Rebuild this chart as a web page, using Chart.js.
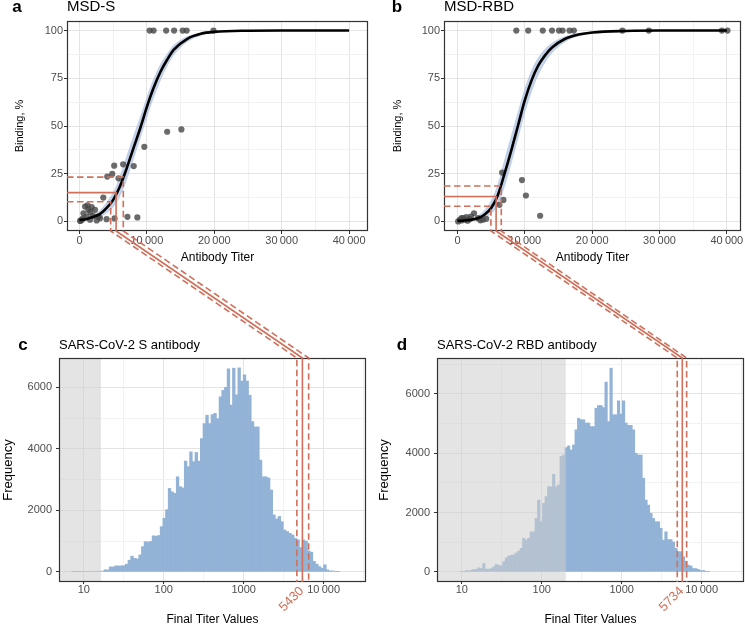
<!DOCTYPE html>
<html>
<head>
<meta charset="utf-8">
<script src="https://cdn.jsdelivr.net/npm/chart.js@4.4.0/dist/chart.umd.min.js"></script>
<style>
  body { margin: 0; background: #fff; }
  #wrap { position: relative; width: 745px; height: 628px; overflow: hidden; }
  #wrap canvas { position: absolute; }
</style>
</head>
<body>
<div id="wrap">
  <canvas id="chartA" width="372" height="270" style="left:0px;top:0px"></canvas>
  <canvas id="chartB" width="373" height="270" style="left:372px;top:0px"></canvas>
  <canvas id="chartC" width="372" height="300" style="left:0px;top:328px"></canvas>
  <canvas id="chartD" width="373" height="300" style="left:372px;top:328px"></canvas>
  <canvas id="overlay" width="745" height="628" style="left:0px;top:0px;pointer-events:none"></canvas>
</div>
<script>
Chart.defaults.font.family = '"Liberation Sans", Arial, Helvetica, sans-serif';

var RED = '#d0705a';
var FONT = '"Liberation Sans", Arial, Helvetica, sans-serif';

// ---- panel a: MSD-S binding vs antibody titer
var sPtsX = [10405, 10994, 12859, 14037, 15313, 15902, 19877,
             13006, 15117, 9620, 5153, 6479, 8049, 4859, 4123, 5791, 3534, 7117, 8589, 5202,
             834, 1325, 1816, 2307, 589, 1080, 343, 98, 1570, 2552, 3043, 4025, 1200, 1600, 2000, 200, 500, 2800];
var sPtsY = [100, 100, 100, 100, 100, 100, 100,
             47, 48.2, 39.1, 29.2, 29.9, 29, 24.9, 23.5, 22.6, 12.5, 2.4, 2.1, 1.6,
             7.8, 6.1, 7.5, 6.1, 4.3, 2.6, 0.9, 0.3, 0.9, 0.5, 1.7, 1.2, 8.5, 5, 3, 0.5, 1.5, 2.5];
var sFitX = [0, 1000, 2000, 3000, 4000, 5000, 6000, 7000, 8000, 9000, 10000, 11000, 12000, 13000, 14000, 16000, 18000, 20000, 25000, 30000, 40000];
var sFitMid = [0.8, 1.2, 2.3, 3.8, 7, 11.3, 18.3, 27.8, 38.3, 48.7, 60, 70, 78.3, 84.7, 90, 95.7, 98.3, 99.3, 99.9, 100, 100];
var sFitLow = [0.3, 0.6, 1.2, 2.2, 4.3, 7.5, 13, 21.5, 32, 43, 54, 64.5, 73.5, 81, 87, 94, 97.3, 98.8, 99.8, 100, 100];
var sFitHigh = [1.5, 2, 3.6, 5.8, 10, 15.5, 24, 34.5, 45, 55, 65.5, 75, 82.5, 88, 92.5, 97, 99, 99.6, 100, 100, 100];
var sCut = [4630, 5430, 6500];          // lower CI, estimate, upper CI
var sCutBinding = [10.3, 15.1, 23.2];

// ---- panel b: MSD-RBD binding vs antibody titer
var rbdPtsX = [8736, 10503, 12663, 14037, 15067, 15607, 16638, 17276, 24491, 28417, 39264, 40098,
               6626, 9571, 10160, 6822, 6233, 12270, 2454,
               344, 834, 1325, 1816, 3043, 3779, 98, 589, 4270, 1080, 2000, 1500, 3400, 600];
var rbdPtsY = [100, 100, 100, 100, 100, 100, 100, 100, 100, 100, 100, 100,
               25.6, 21.7, 13.6, 11.3, 8.7, 3.0, 4.3,
               0.9, 1.7, 2.3, 1.2, 1.7, 0.9, 0, 0.5, 1.4, 0.9, 2.5, 0.4, 0.6, 1.8];
var rbdFitX = sFitX;
var rbdFitMid = [0.3, 0.5, 0.9, 1.7, 3.5, 7, 13.9, 25.2, 37.4, 50.4, 63.5, 73.9, 81.7, 87, 91, 95.7, 97.9, 99, 99.8, 100, 100];
var rbdFitLow = [0.1, 0.2, 0.4, 0.8, 1.8, 4, 8.5, 18, 30, 43, 56.5, 67.5, 76.5, 83, 88, 94, 97, 98.5, 99.7, 100, 100];
var rbdFitHigh = [0.6, 0.9, 1.6, 3, 6, 11, 20, 33, 45.5, 58, 70, 79.5, 86, 90.5, 93.5, 97, 98.7, 99.4, 99.9, 100, 100];
var rbdCut = [4960, 5734, 6500];
var rbdCutBinding = [8.0, 13.1, 18.6];

// ---- panels c/d: histograms of final titer values (log10 bins)
var sBinStart = 0.85, sBinWidth = 0.0335;
var sCounts = [5, 5, 10, 10, 15, 10, 15, 20, 15, 20,
  25, 20, 65, 65, 160, 160, 195, 190, 195, 200,
  250, 380, 510, 440, 420, 550, 820, 980, 970, 990,
  1170, 1160, 1180, 1470, 1740, 2020, 2710, 2600, 2550, 3090,
  2770, 2730, 3600, 3420, 3900, 3580, 3880, 3600, 4330, 4820,
  5090, 4820, 5110, 5150, 4980, 5690, 5900, 6000, 6600, 5420,
  6620, 5750, 6630, 6200, 6400, 6200, 5740, 4880, 4710, 4710,
  3630, 3090, 3090, 3050, 2660, 1850, 1720, 1800, 1630, 1360,
  1310, 1250, 1200, 1090, 1040, 790, 1040, 1000, 680, 640,
  340, 250, 170, 120, 230, 65, 30, 30, 15, 10];
var sShadeTo = 16.4;

var rbdBinStart = 0.98, rbdBinWidth = 0.0312;
var rbdCounts = [0, 20, 40, 30, 55, 80, 80, 135, 110, 280,
  90, 90, 110, 170, 250, 220, 200, 340, 470, 530,
  560, 570, 640, 700, 790, 1130, 1070, 1130, 1350, 1350,
  1800, 2420, 1690, 2310, 2540, 2870, 2870, 3290, 2870, 2930,
  3890, 3940, 4190, 4250, 4110, 4280, 4790, 5180, 5130, 5130,
  5020, 5020, 4900, 4900, 5520, 5610, 5610, 5540, 6400, 5070,
  6870, 5300, 5300, 5770, 5320, 5770, 5020, 4940, 4940, 4790,
  4000, 3940, 3940, 3160, 2420, 2250, 1970, 1800, 1690, 1690,
  1470, 1070, 1350, 1090, 1090, 1010, 790, 680, 680, 510,
  360, 225, 200, 110, 110, 80, 45, 45, 20, 15];
var rbdShadeTo = 200;

// ---- ticks
var titerTicks = [0, 10000, 20000, 30000, 40000];
var titerTickLabels = ['0', '10\u2009000', '20\u2009000', '30\u2009000', '40\u2009000'];
var titerMinor = [5000, 15000, 25000, 35000];
var bindingTicks = [0, 25, 50, 75, 100];
var bindingTickLabels = ['0', '25', '50', '75', '100'];
var bindingMinor = [12.5, 37.5, 62.5, 87.5];
var finalTicks = [10, 100, 1000, 10000];
var finalTickLabels = ['10', '100', '1000', '10\u2009000'];
var finalMinor = [31.62, 316.2, 3162, 31623];
var freqTicks = [0, 2000, 4000, 6000];
var freqTickLabels = ['0', '2000', '4000', '6000'];
var freqMinor = [1000, 3000, 5000, 7000];

function toXY(xs, ys) {
    var out = [];
    for (var i = 0; i < xs.length; i++) out.push({ x: xs[i], y: ys[i] });
    return out;
}

function binCenters(start, width, n) {
    var out = [];
    for (var i = 0; i < n; i++) out.push(Math.pow(10, start + (i + 0.5) * width));
    return out;
}

function fixedTicks(majors, minors) {
    return function (scale) {
        var all = majors.concat(minors).filter(function (v) { return v >= scale.min && v <= scale.max; });
        all.sort(function (a, b) { return a - b; });
        scale.ticks = all.map(function (v) { return { value: v }; });
    };
}

function isMajor(majors, v) {
    for (var i = 0; i < majors.length; i++) {
        if (Math.abs(majors[i] - v) < 1e-6) return i;
    }
    return -1;
}

// ggplot-like axis: light major/minor grid, short dark ticks on majors only
function axis(majors, labels, minors, tickLen, pad, extra) {
    var a = {
        afterBuildTicks: fixedTicks(majors, minors),
        border: { display: false },
        grid: {
            offset: false,
            tickLength: tickLen,
            color: function (ctx) {
                if (!ctx.tick) return 'rgba(0,0,0,0)';
                return isMajor(majors, ctx.tick.value) >= 0 ? '#e4e4e4' : '#f2f2f2';
            },
            tickColor: function (ctx) {
                if (!ctx.tick) return 'rgba(0,0,0,0)';
                return isMajor(majors, ctx.tick.value) >= 0 ? '#333' : 'rgba(0,0,0,0)';
            },
            lineWidth: 1
        },
        ticks: {
            autoSkip: false,
            maxRotation: 0,
            padding: pad,
            color: '#4d4d4d',
            font: { size: 11 },
            callback: function (v) {
                var k = isMajor(majors, v);
                return k >= 0 ? labels[k] : '';
            }
        }
    };
    for (var key in extra) a[key] = extra[key];
    return a;
}

var panelDeco = {
    id: 'panelDeco',
    afterDatasetsDraw: function (chart, args, o) {
        if (o.shadeTo) {
            var a = chart.chartArea, ctx = chart.ctx;
            var x1 = chart.scales.x.getPixelForValue(o.shadeTo);
            ctx.save();
            ctx.fillStyle = 'rgba(205,205,205,0.55)';
            ctx.fillRect(a.left, a.top, x1 - a.left, a.bottom - a.top);
            ctx.restore();
        }
    },
    afterDraw: function (chart, args, o) {
        var a = chart.chartArea, ctx = chart.ctx;
        ctx.save();
        ctx.strokeStyle = '#333';
        ctx.lineWidth = 1.2;
        ctx.strokeRect(a.left + 0.5, a.top + 0.5, a.right - a.left - 1, a.bottom - a.top - 1);
        ctx.fillStyle = '#000';
        ctx.textBaseline = 'middle';
        ctx.textAlign = 'center';
        ctx.font = 'bold 17px ' + FONT;
        ctx.fillText(o.letter, o.letterX, o.textY);
        ctx.textAlign = 'left';
        ctx.font = o.titleSize + 'px ' + FONT;
        ctx.fillText(o.title, a.left, o.textY);
        ctx.restore();
    }
};

function drawBindingPanel(id, letter, title, ptsX, ptsY, fitX, fitMid, fitLow, fitHigh, xMin, xMax, o) {
    var c = document.getElementById(id);
    return new Chart(c.getContext('2d'), {
        type: 'scatter',
        data: {
            datasets: [
                {
                    type: 'line',
                    data: toXY(fitX, fitMid),
                    borderColor: '#000',
                    borderWidth: 2.6,
                    pointRadius: 0,
                    cubicInterpolationMode: 'monotone',
                    order: 0
                },
                {
                    data: toXY(ptsX, ptsY),
                    backgroundColor: 'rgba(70,70,70,0.8)',
                    borderWidth: 0,
                    pointRadius: 3.1,
                    order: 1
                },
                {
                    type: 'line',
                    data: toXY(fitX, fitLow),
                    borderWidth: 0,
                    pointRadius: 0,
                    fill: false,
                    cubicInterpolationMode: 'monotone',
                    order: 3
                },
                {
                    type: 'line',
                    data: toXY(fitX, fitHigh),
                    borderWidth: 0,
                    pointRadius: 0,
                    fill: 2,
                    backgroundColor: 'rgba(168,189,222,0.7)',
                    cubicInterpolationMode: 'monotone',
                    order: 2
                }
            ]
        },
        plugins: [panelDeco],
        options: {
            responsive: false,
            animation: false,
            events: [],
            layout: { padding: { top: 21, right: o.padRight, left: 0, bottom: 0 } },
            plugins: {
                legend: { display: false },
                tooltip: { enabled: false },
                panelDeco: { letter: letter, letterX: o.letterX, textY: 7, title: title, titleSize: 15 }
            },
            scales: {
                x: axis(titerTicks, titerTickLabels, titerMinor, 3, 0, {
                    type: 'linear', min: xMin, max: xMax,
                    afterFit: function (s) { s.height = 39; },
                    title: { display: true, text: 'Antibody Titer', color: '#000', font: { size: 12 }, padding: { top: 0, bottom: 5.3 } }
                }),
                y: axis(bindingTicks, bindingTickLabels, bindingMinor, 3, 1, {
                    type: 'linear', min: -5, max: 105,
                    afterFit: function (s) { s.width = o.yWidth; },
                    title: { display: true, text: 'Binding, %', color: '#000', font: { size: 11 }, padding: { top: o.yTitlePad, bottom: 0 } }
                })
            }
        }
    });
}

function drawHistPanel(id, letter, title, counts, binStart, binWidth, shadeTo, yMin, yMax, o) {
    var c = document.getElementById(id);
    var centers = binCenters(binStart, binWidth, counts.length);
    return new Chart(c.getContext('2d'), {
        type: 'bar',
        data: {
            datasets: [{
                data: toXY(centers, counts),
                backgroundColor: '#92b2d6',
                borderWidth: 0,
                barPercentage: 1,
                categoryPercentage: 1
            }]
        },
        plugins: [panelDeco],
        options: {
            responsive: false,
            animation: false,
            events: [],
            layout: { padding: { top: 30, right: o.padRight, left: 0, bottom: 0 } },
            plugins: {
                legend: { display: false },
                tooltip: { enabled: false },
                panelDeco: { letter: letter, letterX: o.letterX, textY: 17, title: title, titleSize: 13, shadeTo: shadeTo }
            },
            scales: {
                x: axis(finalTicks, finalTickLabels, finalMinor, 2, -1, {
                    type: 'logarithmic', min: 4.9, max: 33900, offset: false,
                    afterFit: function (s) { s.height = 46; },
                    title: { display: true, text: 'Final Titer Values', color: '#000', font: { size: 12 }, padding: { top: 0, bottom: 0.8 } }
                }),
                y: axis(freqTicks, freqTickLabels, freqMinor, 3, 4, {
                    type: 'linear', min: yMin, max: yMax,
                    afterFit: function (s) { s.width = o.yWidth; },
                    title: { display: true, text: 'Frequency', color: '#000', font: { size: 13 }, padding: { top: o.yTitlePad, bottom: 0 } }
                })
            }
        }
    });
}

var chartA = drawBindingPanel('chartA', 'a', 'MSD-S', sPtsX, sPtsY, sFitX, sFitMid, sFitLow, sFitHigh, -1850, 42800,
    { padRight: 2, yWidth: 67, yTitlePad: 12.9, letterX: 17 });
var chartB = drawBindingPanel('chartB', 'b', 'MSD-RBD', rbdPtsX, rbdPtsY, rbdFitX, rbdFitMid, rbdFitLow, rbdFitHigh, -2005, 42103,
    { padRight: 1, yWidth: 72, yTitlePad: 19.6, letterX: 25 });
var chartC = drawHistPanel('chartC', 'c', 'SARS-CoV-2 S antibody', sCounts, sBinStart, sBinWidth, sShadeTo, -330, 6950,
    { padRight: 6, yWidth: 59, yTitlePad: 0.5, letterX: 23 });
var chartD = drawHistPanel('chartD', 'd', 'SARS-CoV-2 RBD antibody', rbdCounts, rbdBinStart, rbdBinWidth, rbdShadeTo, -343, 7213,
    { padRight: 1, yWidth: 65, yTitlePad: 4.7, letterX: 30 });

// red guide lines linking the binding curve to the titer histogram
function drawLinks(ctx, top, bottom, cuts, levels) {
    var tl = top.canvas.offsetLeft, tt = top.canvas.offsetTop;
    var bl = bottom.canvas.offsetLeft, bt = bottom.canvas.offsetTop;
    var ta = top.chartArea, ba = bottom.chartArea;
    ctx.save();
    ctx.strokeStyle = RED;
    ctx.lineWidth = 1.6;
    for (var i = 0; i < cuts.length; i++) {
        var xt = tl + top.scales.x.getPixelForValue(cuts[i]);
        var yt = tt + top.scales.y.getPixelForValue(levels[i]);
        var xb = bl + bottom.scales.x.getPixelForValue(cuts[i]);
        ctx.setLineDash(i == 1 ? [] : [6.5, 3.5]);
        ctx.beginPath();
        ctx.moveTo(tl + ta.left, yt);
        ctx.lineTo(xt, yt);
        ctx.lineTo(xt, tt + ta.bottom);
        ctx.lineTo(xb, bt + ba.top);
        ctx.lineTo(xb, bt + ba.bottom);
        ctx.stroke();
    }
    var xm = bl + bottom.scales.x.getPixelForValue(cuts[1]);
    ctx.setLineDash([]);
    ctx.translate(xm - 0.5, bt + ba.bottom + 7);
    ctx.rotate(-Math.PI / 4);
    ctx.fillStyle = RED;
    ctx.font = '13px ' + FONT;
    ctx.textAlign = 'right';
    ctx.textBaseline = 'middle';
    ctx.fillText(String(cuts[1]), 0, 0);
    ctx.restore();
}

var ov = document.getElementById('overlay').getContext('2d');
drawLinks(ov, chartA, chartC, sCut, sCutBinding);
drawLinks(ov, chartB, chartD, rbdCut, rbdCutBinding);
</script>
</body>
</html>
